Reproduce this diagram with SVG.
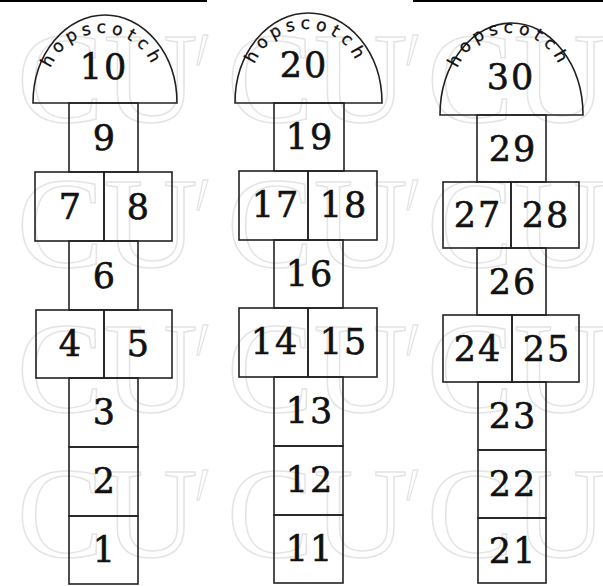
<svg xmlns="http://www.w3.org/2000/svg" width="603" height="586" viewBox="0 0 603 586">
<style>
.bx{fill:none;stroke:#222;stroke-width:1.6}
.dm{fill:none;stroke:#222;stroke-width:1.6}
.n{font-family:"DejaVu Serif","Liberation Serif",serif;font-size:35px;fill:#111;stroke:#111;stroke-width:0.6;text-anchor:middle;letter-spacing:2px}
.hs{font-family:"DejaVu Sans","Liberation Sans",sans-serif;font-size:17px;fill:#111;stroke:#111;stroke-width:0.3;letter-spacing:5px}
.wm{font-family:"Liberation Serif",serif;font-size:130px;fill:none;stroke:#e4e4e4;stroke-width:1.5}
.tk{fill:none;stroke:#e4e4e4;stroke-width:1.3}
</style>
<defs>
<path id="arc1" d="M47,88 A55,55 0 0 1 157,88"/>
<path id="arc2" d="M251,84 A55,55 0 0 1 361,84"/>
<path id="arc3" d="M454,88 A55,55 0 0 1 564,88"/>
<g id="wmunit">
<text class="wm" x="0" y="0">CU</text>
<polygon class="tk" points="186,-87 191,-87 182,-57 180,-57"/>
</g>
</defs>
<rect x="0" y="0" width="207" height="2" fill="#000"/>
<rect x="413" y="0" width="190" height="2" fill="#000"/>
<g id="watermark">
<use href="#wmunit" x="17" y="122"/><use href="#wmunit" x="227" y="122"/><use href="#wmunit" x="427" y="122"/>
<use href="#wmunit" x="17" y="267"/><use href="#wmunit" x="227" y="267"/><use href="#wmunit" x="427" y="267"/>
<use href="#wmunit" x="17" y="412"/><use href="#wmunit" x="227" y="412"/><use href="#wmunit" x="427" y="412"/>
<use href="#wmunit" x="17" y="557"/><use href="#wmunit" x="227" y="557"/><use href="#wmunit" x="427" y="557"/>
</g>
<g id="hopscotch1">
<g id="n10"><path class="dm" d="M33,103 A72,88 0 0 1 177,103 Z"/><text class="hs"><textPath href="#arc1" startOffset="50%" text-anchor="middle">hopscotch</textPath></text><text class="n" x="104" y="79">10</text></g>
<g id="n9"><rect class="bx" x="69" y="103" width="69" height="69"/><text class="n" x="105" y="150">9</text></g>
<g id="n7"><rect class="bx" x="35" y="172" width="69" height="69"/><text class="n" x="71" y="219">7</text></g>
<g id="n8"><rect class="bx" x="104" y="172" width="68" height="69"/><text class="n" x="139" y="219">8</text></g>
<g id="n6"><rect class="bx" x="69" y="241" width="69" height="69"/><text class="n" x="105" y="288">6</text></g>
<g id="n4"><rect class="bx" x="36" y="310" width="68" height="68"/><text class="n" x="71" y="356">4</text></g>
<g id="n5"><rect class="bx" x="104" y="310" width="68" height="68"/><text class="n" x="139" y="356">5</text></g>
<g id="n3"><rect class="bx" x="69" y="378" width="69" height="69"/><text class="n" x="105" y="424">3</text></g>
<g id="n2"><rect class="bx" x="69" y="447" width="69" height="69"/><text class="n" x="105" y="493">2</text></g>
<g id="n1"><rect class="bx" x="69" y="516" width="69" height="68"/><text class="n" x="105" y="562">1</text></g>
</g>
<g id="hopscotch2">
<g id="n20"><path class="dm" d="M235,103 A73.5,90 0 0 1 382,103 Z"/><text class="hs"><textPath href="#arc2" startOffset="50%" text-anchor="middle">hopscotch</textPath></text><text class="n" x="304" y="77">20</text></g>
<g id="n19"><rect class="bx" x="274" y="103" width="70" height="68"/><text class="n" x="310" y="149">19</text></g>
<g id="n17"><rect class="bx" x="239" y="171" width="69" height="69"/><text class="n" x="276" y="217">17</text></g>
<g id="n18"><rect class="bx" x="308" y="171" width="69" height="69"/><text class="n" x="344" y="217">18</text></g>
<g id="n16"><rect class="bx" x="274" y="240" width="69" height="68"/><text class="n" x="310" y="286">16</text></g>
<g id="n14"><rect class="bx" x="239" y="308" width="69" height="69"/><text class="n" x="275" y="354">14</text></g>
<g id="n15"><rect class="bx" x="308" y="308" width="69" height="69"/><text class="n" x="344" y="354">15</text></g>
<g id="n13"><rect class="bx" x="274" y="377" width="69" height="69"/><text class="n" x="310" y="423">13</text></g>
<g id="n12"><rect class="bx" x="274" y="446" width="69" height="69"/><text class="n" x="310" y="492">12</text></g>
<g id="n11"><rect class="bx" x="274" y="515" width="69" height="68"/><text class="n" x="310" y="561">11</text></g>
</g>
<g id="hopscotch3">
<g id="n30"><path class="dm" d="M440,115 A71.5,92 0 0 1 583,115 Z"/><text class="hs"><textPath href="#arc3" startOffset="50%" text-anchor="middle">hopscotch</textPath></text><text class="n" x="511" y="89">30</text></g>
<g id="n29"><rect class="bx" x="477" y="115" width="69" height="67"/><text class="n" x="513" y="161">29</text></g>
<g id="n27"><rect class="bx" x="443" y="182" width="68" height="66"/><text class="n" x="478" y="227">27</text></g>
<g id="n28"><rect class="bx" x="511" y="182" width="68" height="66"/><text class="n" x="546" y="227">28</text></g>
<g id="n26"><rect class="bx" x="477" y="248" width="69" height="67"/><text class="n" x="513" y="294">26</text></g>
<g id="n24"><rect class="bx" x="443" y="315" width="69" height="67"/><text class="n" x="478" y="361">24</text></g>
<g id="n25"><rect class="bx" x="512" y="315" width="67" height="67"/><text class="n" x="547" y="361">25</text></g>
<g id="n23"><rect class="bx" x="478" y="382" width="68" height="68"/><text class="n" x="513" y="428">23</text></g>
<g id="n22"><rect class="bx" x="478" y="450" width="68" height="68"/><text class="n" x="513" y="496">22</text></g>
<g id="n21"><rect class="bx" x="478" y="518" width="68" height="65"/><text class="n" x="513" y="563">21</text></g>
</g>
</svg>
